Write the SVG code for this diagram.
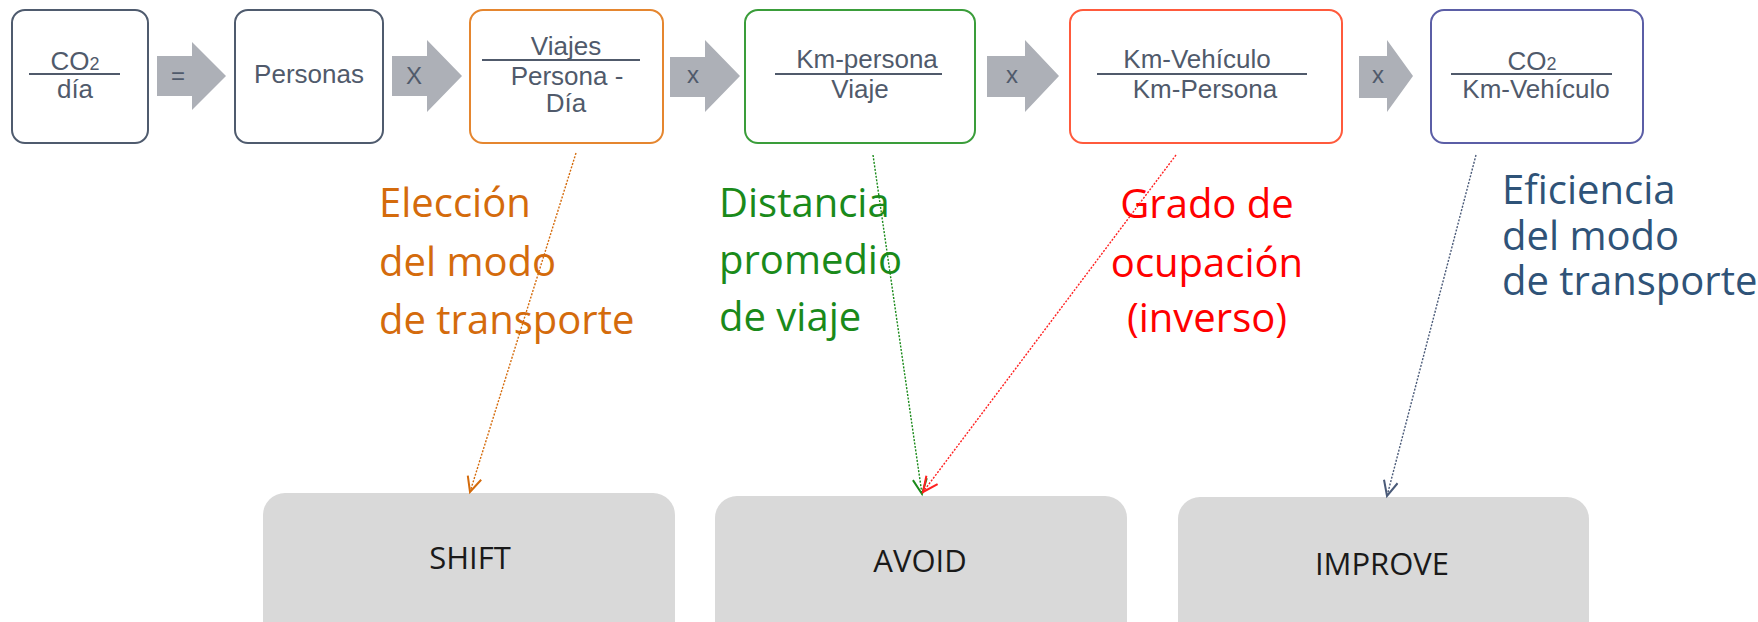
<svg xmlns="http://www.w3.org/2000/svg" width="1758" height="622" viewBox="0 0 1758 622">
<style>
.box{fill:#fff;stroke-width:2}
.bt{font-family:"Liberation Sans",Arial,sans-serif;font-size:26px;fill:#505a6b;text-anchor:middle}
.sub{font-size:18px}
.frac{stroke:#505a6b;stroke-width:2}
.blk{fill:#adb0b7}
.op{font-family:"Liberation Sans",Arial,sans-serif;font-size:24px;fill:#505a6b;text-anchor:middle}
.lbl{font-family:"Open Sans",sans-serif;font-size:40px}
.act{fill:#d9d9d9}
.at{font-family:"Open Sans",sans-serif;font-size:31px;fill:#1a1a1a;text-anchor:middle}
.con{fill:none;stroke-width:1.4;stroke-dasharray:2 1.5}
</style>
<defs>
<marker id="mo" markerUnits="userSpaceOnUse" markerWidth="20" markerHeight="20" refX="16" refY="8" orient="auto"><path d="M1,1 L16,8 L1,15" fill="none" stroke="#d46b0c" stroke-width="2"/></marker>
<marker id="mg" markerUnits="userSpaceOnUse" markerWidth="20" markerHeight="20" refX="16" refY="8" orient="auto"><path d="M1,1 L16,8 L1,15" fill="none" stroke="#1a8a1a" stroke-width="2"/></marker>
<marker id="mr" markerUnits="userSpaceOnUse" markerWidth="20" markerHeight="20" refX="16" refY="8" orient="auto"><path d="M1,1 L16,8 L1,15" fill="none" stroke="#ff2020" stroke-width="2"/></marker>
<marker id="mb" markerUnits="userSpaceOnUse" markerWidth="20" markerHeight="20" refX="16" refY="8" orient="auto"><path d="M1,1 L16,8 L1,15" fill="none" stroke="#4a5a78" stroke-width="2"/></marker>
</defs>

<g id="op-arrows">
<path class="blk" d="M157,56 H192 V42 L226,76 L192,110 V96 H157 Z"/>
<text class="op" x="178" y="84">=</text>
<path class="blk" d="M392,56 H427 V40 L462,76 L427,112 V96 H392 Z"/>
<text class="op" x="414" y="84">X</text>
<path class="blk" d="M670,57 H705 V40 L740,76 L705,112 V97 H670 Z"/>
<text class="op" x="693" y="83">x</text>
<path class="blk" d="M987,56 H1025 V40 L1059,76 L1025,112 V97 H987 Z"/>
<text class="op" x="1012" y="83">x</text>
<path class="blk" d="M1359,56 H1387 V40 L1413,76 L1387,112 V98 H1359 Z"/>
<text class="op" x="1378" y="83">x</text>
</g>

<g id="n-co2dia">
<rect class="box" x="12" y="10" width="136" height="133" rx="13" stroke="#4f5b6e"/>
<text class="bt" x="75" y="70">CO<tspan class="sub">2</tspan></text>
<line class="frac" x1="29" y1="74" x2="120" y2="74"/>
<text class="bt" x="75" y="98">día</text>
</g>

<g id="n-personas">
<rect class="box" x="235" y="10" width="148" height="133" rx="13" stroke="#4f5b6e"/>
<text class="bt" x="309" y="83">Personas</text>
</g>

<g id="n-viajes">
<rect class="box" x="470" y="10" width="193" height="133" rx="13" stroke="#e5862f"/>
<text class="bt" x="566" y="55">Viajes</text>
<line class="frac" x1="482" y1="60" x2="640" y2="60"/>
<text class="bt" x="567" y="85">Persona -</text>
<text class="bt" x="566" y="112">Día</text>
</g>

<g id="n-kmpersona">
<rect class="box" x="745" y="10" width="230" height="133" rx="13" stroke="#3a9d3a"/>
<text class="bt" x="867" y="68">Km-persona</text>
<line class="frac" x1="775" y1="74" x2="942" y2="74"/>
<text class="bt" x="860" y="98">Viaje</text>
</g>

<g id="n-kmvehiculo">
<rect class="box" x="1070" y="10" width="272" height="133" rx="13" stroke="#ff5a3c"/>
<text class="bt" x="1197" y="68">Km-Vehículo</text>
<line class="frac" x1="1097" y1="74" x2="1307" y2="74"/>
<text class="bt" x="1205" y="98">Km-Persona</text>
</g>

<g id="n-co2km">
<rect class="box" x="1431" y="10" width="212" height="133" rx="13" stroke="#5b5ea6"/>
<text class="bt" x="1532" y="70">CO<tspan class="sub">2</tspan></text>
<line class="frac" x1="1451" y1="74" x2="1612" y2="74"/>
<text class="bt" x="1536" y="98">Km-Vehículo</text>
</g>

<g id="labels">
<text class="lbl" fill="#d46b0c" x="379"><tspan x="379" y="217">Elección</tspan><tspan x="379" y="276">del modo</tspan><tspan x="379" y="334">de transporte</tspan></text>
<text class="lbl" fill="#1a8a1a" x="719"><tspan x="719" y="217">Distancia</tspan><tspan x="719" y="274">promedio</tspan><tspan x="719" y="331">de viaje</tspan></text>
<text class="lbl" fill="#ff0000" text-anchor="middle"><tspan x="1207" y="218">Grado de</tspan><tspan x="1207" y="277">ocupación</tspan><tspan x="1207" y="332">(inverso)</tspan></text>
<text class="lbl" fill="#2f5378"><tspan x="1502" y="204">Eficiencia</tspan><tspan x="1502" y="250">del modo</tspan><tspan x="1502" y="295">de transporte</tspan></text>
</g>

<g id="n-shift">
<rect class="act" x="263" y="493" width="412" height="150" rx="22"/>
<text class="at" x="470" y="569">SHIFT</text>
</g>
<g id="n-avoid">
<rect class="act" x="715" y="496" width="412" height="150" rx="22"/>
<text class="at" x="920" y="572">AVOID</text>
</g>
<g id="n-improve">
<rect class="act" x="1178" y="497" width="411" height="150" rx="22"/>
<text class="at" x="1382" y="575">IMPROVE</text>
</g>

<g id="connectors">
<line class="con" stroke="#d46b0c" x1="576" y1="153" x2="470" y2="492" marker-end="url(#mo)"/>
<line class="con" stroke="#1a8a1a" x1="873" y1="155" x2="922" y2="494" marker-end="url(#mg)"/>
<line class="con" stroke="#ff2020" x1="1176" y1="155" x2="923" y2="492" marker-end="url(#mr)"/>
<line class="con" stroke="#4a5a78" x1="1476" y1="155" x2="1387" y2="496" marker-end="url(#mb)"/>
</g>
</svg>
